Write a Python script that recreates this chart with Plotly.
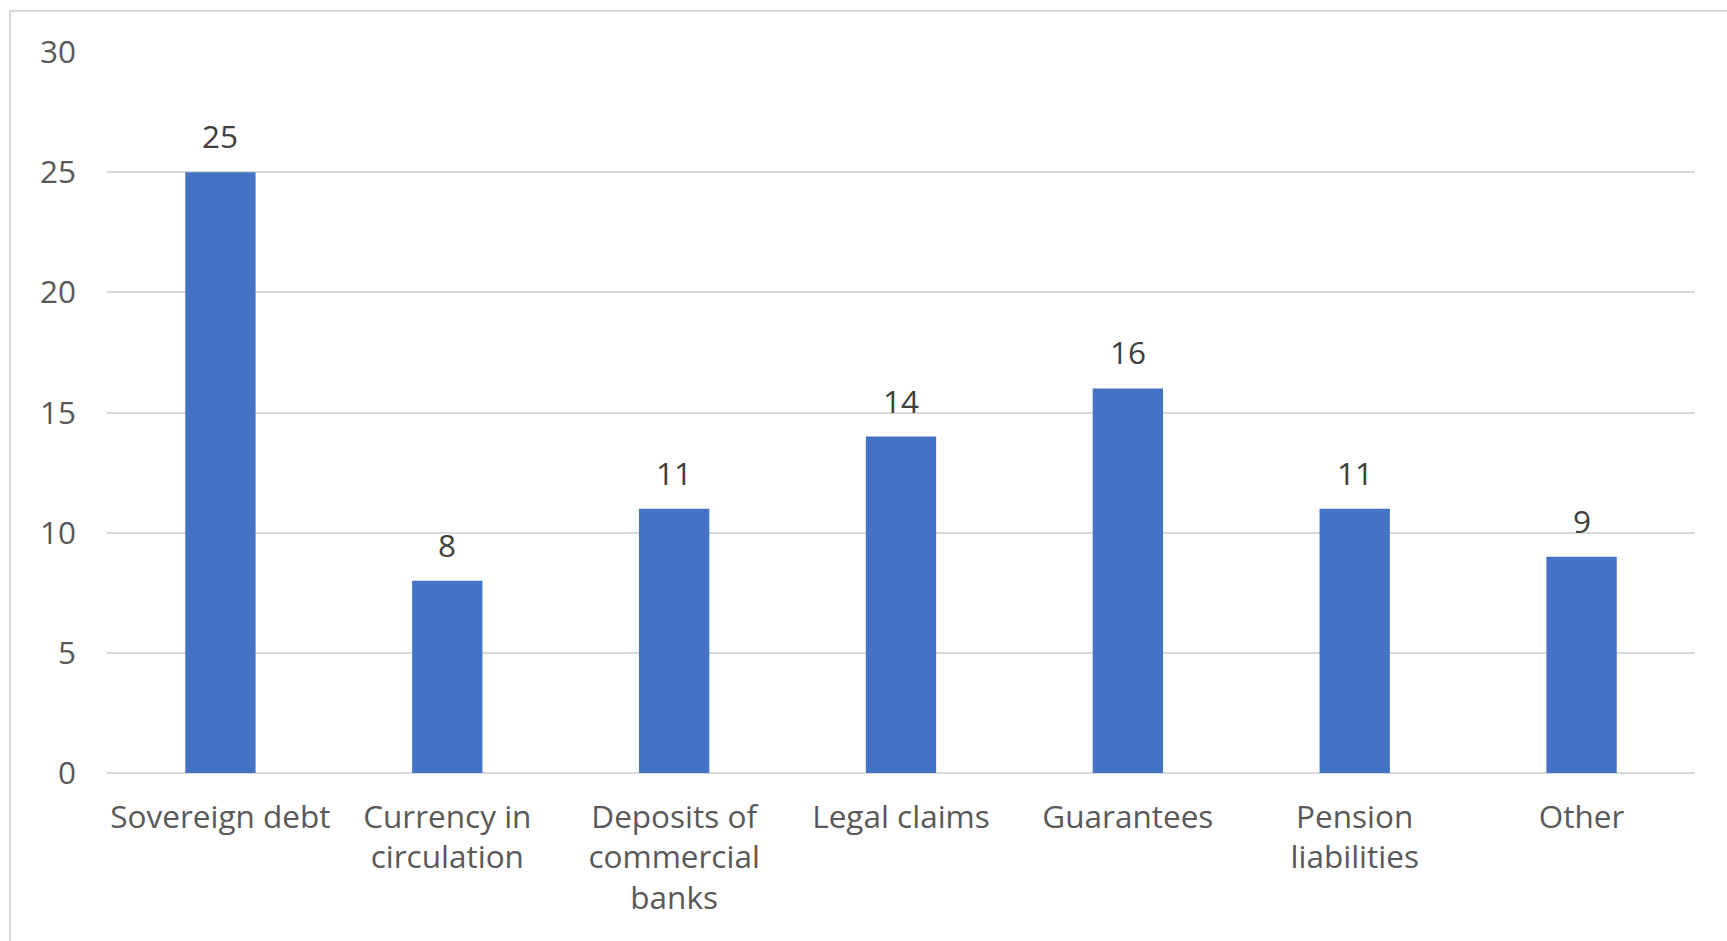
import plotly.graph_objects as go

categories = ["Sovereign debt", "Currency in circulation", "Deposits of commercial banks",
              "Legal claims", "Guarantees", "Pension liabilities", "Other"]
tick_labels = ["Sovereign debt", "Currency in<br>circulation", "Deposits of<br>commercial<br>banks",
               "Legal claims", "Guarantees", "Pension<br>liabilities", "Other"]
values = [25, 8, 11, 14, 16, 11, 9]
y_ticks = [0, 5, 10, 15, 20, 25, 30]

W, H = 1727, 941
ml, mr, mt, mb = 107, 32, 52, 168
pw, ph = W - ml - mr, H - mt - mb

FONT = "Open Sans"
FS = 31.5
GRID = "#d9d9d9"
TXT = "#595959"

fig = go.Figure()
fig.add_trace(go.Bar(
    x=categories, y=values,
    marker=dict(color="#4472C4", line=dict(width=0)),
    width=0.31,
    hoverinfo="skip",
))

for c, v in zip(categories, values):
    fig.add_annotation(x=c, y=v, text=str(v), showarrow=False,
                       yanchor="bottom", yshift=13,
                       font=dict(family=FONT, size=FS, color="#404040"))

# outer chart border (light gray)
fig.add_shape(type="rect", xref="paper", yref="paper",
              x0=(10 - ml) / pw, x1=(W + 20 - ml) / pw,
              y0=-(mb + 20) / ph, y1=1 + (mt - 11) / ph,
              line=dict(color=GRID, width=2), fillcolor="rgba(0,0,0,0)", layer="below")

fig.update_layout(
    width=W, height=H,
    margin=dict(l=ml, r=mr, t=mt, b=mb),
    paper_bgcolor="white", plot_bgcolor="white",
    showlegend=False,
    font=dict(family=FONT, size=FS, color=TXT),
    xaxis=dict(
        categoryorder="array", categoryarray=categories,
        tickmode="array", tickvals=categories, ticktext=tick_labels,
        showgrid=False, showline=False, zeroline=False, ticks="",
        ticklabelstandoff=22,
        tickfont=dict(family=FONT, size=FS, color=TXT),
        range=[-0.5, len(categories) - 0.5],
    ),
    yaxis=dict(
        range=[0, 30], tickmode="array", tickvals=y_ticks,
        showgrid=True, gridcolor=GRID, gridwidth=2,
        zeroline=True, zerolinecolor=GRID, zerolinewidth=2,
        showline=False, ticks="", ticklabelstandoff=30,
        tickfont=dict(family=FONT, size=FS, color=TXT),
    ),
)

fig.write_html("out.html")
